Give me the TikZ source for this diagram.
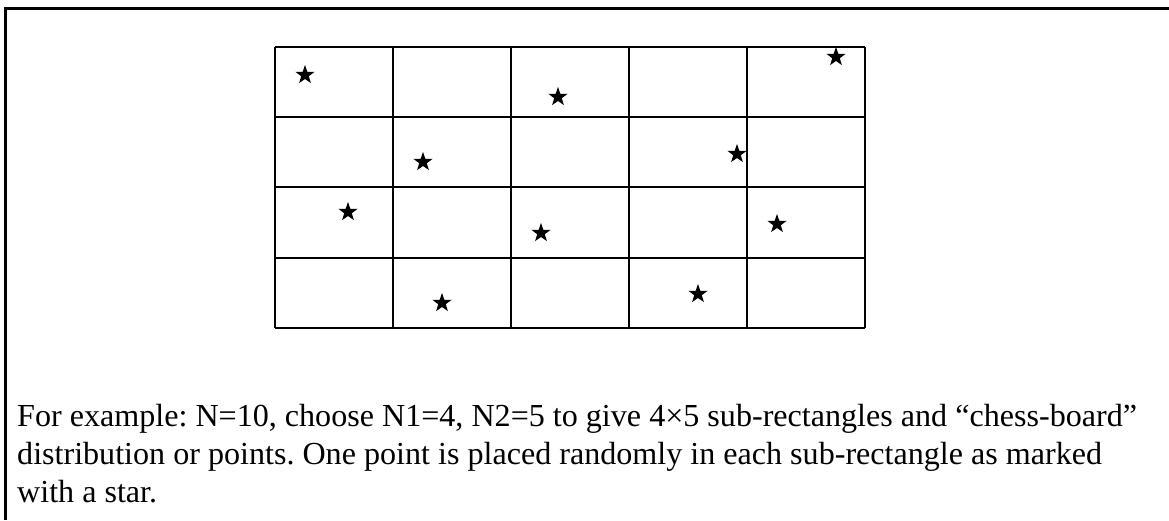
\documentclass[tikz,border=0pt]{standalone}
\usepackage{fontspec}
\setmainfont{Liberation Serif}
\usetikzlibrary{shapes.geometric}
\frenchspacing

\begin{document}
\begin{tikzpicture}[
    x=1pt, y=-1pt,
    gridline/.style={line width=1.6pt},
    starmark/.style={star, star points=5, star point ratio=2.5, fill=black, inner sep=0pt, minimum size=20pt},
    caption/.style={anchor=base west, align=left, inner sep=0pt, font=\fontsize{32.1}{38}\selectfont}
]
\useasboundingbox (0,0) rectangle (1169,520);

% outer frame (open at right and bottom)
\draw[line width=3pt] (5,520) -- (5,8) -- (1169,8);

% board: 4 rows x 5 columns
\foreach \x in {275,393,511,629,747,865}{
  \draw[gridline] (\x,47) -- (\x,328);
}
\foreach \y in {47,117,187,258,328}{
  \draw[gridline] (275,\y) -- (865,\y);
}

% one random point per sub-rectangle
\foreach \n/\x/\y in {s1/305/75, s2/558/97, s3/836/57, s4/423/162, s5/737/154,
                      s6/348/212, s7/541/233, s8/777/224, s9/442/303, s10/698/294}{
  \node[starmark] (\n) at (\x,\y) {};
}

% caption (anchored at the baseline of its last line)
\node[caption] (note) at (17,502) {For example: N=10, choose N1=4, N2=5 to give 4×5 sub-rectangles and “chess-board”\\
distribution or points. One point is placed randomly in each sub-rectangle as marked\\
with a star.};

\end{tikzpicture}
\end{document}
